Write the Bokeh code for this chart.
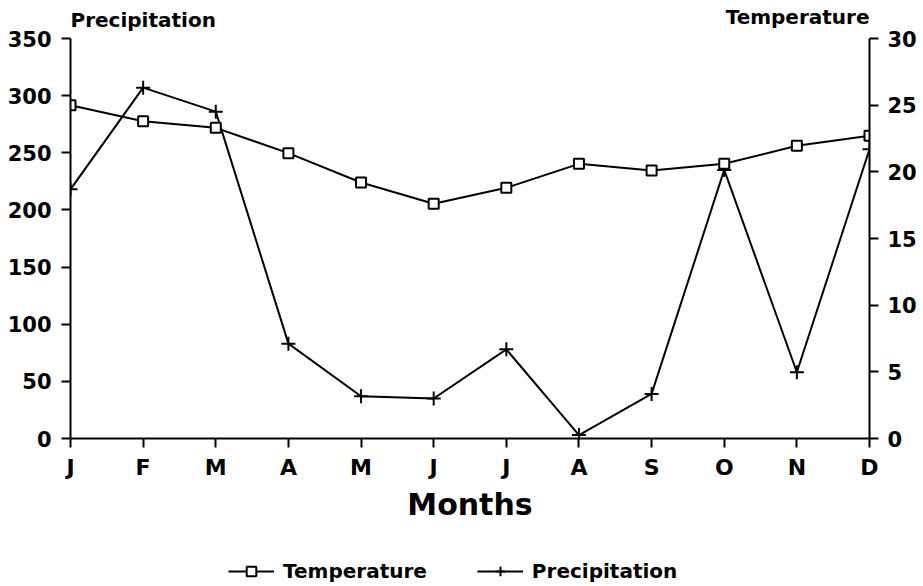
from bokeh.plotting import figure
from bokeh.layouts import column
from bokeh.models import Range1d, LinearAxis, FixedTicker, Label, Legend, LegendItem
from bokeh.embed import file_html
from bokeh.resources import INLINE

months = ["J", "F", "M", "A", "M", "J", "J", "A", "S", "O", "N", "D"]
month_idx = list(range(12))
temperature = [25.0, 23.8, 23.3, 21.4, 19.2, 17.6, 18.8, 20.6, 20.1, 20.6, 21.95, 22.7]
precipitation = [218, 307, 286, 83, 37, 35, 78, 3, 39, 235, 58, 253]
precip_ticks = [0, 50, 100, 150, 200, 250, 300, 350]
temp_ticks = [0, 5, 10, 15, 20, 25, 30]

FONT = "DejaVu Sans"

# frame geometry (pixels): axis part is 400 px tall, 38 px of headroom above it
AXIS_PX = 400
HEAD_PX = 38
scale_top = (AXIS_PX + HEAD_PX) / AXIS_PX

p = figure(width=923, height=540, output_backend="svg", toolbar_location=None,
           x_range=Range1d(0, 11), y_range=Range1d(0, precip_ticks[-1] * scale_top),
           min_border_left=70, min_border_right=54, min_border_top=0, min_border_bottom=102)
p.extra_y_ranges = {"temp": Range1d(0, temp_ticks[-1] * scale_top)}
p.outline_line_color = None
p.xgrid.visible = False
p.ygrid.visible = False
p.background_fill_color = "white"
p.border_fill_color = "white"

def style_axis(ax, standoff):
    ax.axis_line_color = "black"
    ax.axis_line_width = 2
    ax.major_tick_line_color = "black"
    ax.major_tick_line_width = 2
    ax.major_tick_out = 9
    ax.major_tick_in = 0
    ax.minor_tick_line_color = None
    ax.major_label_text_font = FONT
    ax.major_label_text_font_style = "bold"
    ax.major_label_text_font_size = "21px"
    ax.major_label_text_color = "black"
    ax.major_label_standoff = standoff

xa = p.xaxis[0]
xa.ticker = FixedTicker(ticks=month_idx)
xa.major_label_overrides = {i: m for i, m in enumerate(months)}
style_axis(xa, 7)
xa.major_label_text_font_size = "22px"
xa.axis_label = "Months"
xa.axis_label_text_font = FONT
xa.axis_label_text_font_style = "bold"
xa.axis_label_text_font_size = "30px"
xa.axis_label_text_color = "black"
xa.axis_label_standoff = 4

ya = p.yaxis[0]
ya.ticker = FixedTicker(ticks=precip_ticks)
ya.bounds = (0, precip_ticks[-1])
style_axis(ya, 10)

ra = LinearAxis(y_range_name="temp", ticker=FixedTicker(ticks=temp_ticks),
                bounds=(0, temp_ticks[-1]))
style_axis(ra, 9)
p.add_layout(ra, "right")

pl = p.line(month_idx, precipitation, line_color="black", line_width=2)
pm = p.scatter(month_idx, precipitation, marker="cross", size=14, line_color="black", line_width=2)
tl = p.line(month_idx, temperature, y_range_name="temp", line_color="black", line_width=2)
tm = p.scatter(month_idx, temperature, y_range_name="temp", marker="square", size=10,
               line_color="black", line_width=2, fill_color="white")

p.add_layout(Label(x=0, y=precip_ticks[-1], y_offset=19, text="Precipitation", text_font=FONT,
                   text_font_style="bold", text_font_size="20px", text_align="left",
                   text_baseline="alphabetic", text_color="black"))
p.add_layout(Label(x=11, y=precip_ticks[-1], y_offset=22, text="Temperature", text_font=FONT,
                   text_font_style="bold", text_font_size="20px", text_align="right",
                   text_baseline="alphabetic", text_color="black"))

# legend strip under the chart (its frame is aligned with the chart's frame);
# its view window lies outside the data, so only the legend is visible
lg = figure(width=923, height=46, output_backend="svg", toolbar_location=None,
            x_range=Range1d(-3, -2), y_range=Range1d(0, 1),
            min_border_left=70, min_border_right=54, min_border_top=0, min_border_bottom=0,
            x_axis_location=None, y_axis_location=None)
lg.outline_line_color = None
lg.xgrid.visible = False
lg.ygrid.visible = False
lt = lg.line(month_idx, temperature, line_color="black", line_width=2)
lts = lg.scatter(month_idx, temperature, marker="square", size=8, line_color="black",
                 line_width=2, fill_color="white")
lp = lg.line(month_idx, precipitation, line_color="black", line_width=2)
lps = lg.scatter(month_idx, precipitation, marker="cross", size=14, line_color="black", line_width=2)

legend = Legend(items=[LegendItem(label="Temperature", renderers=[lt, lts]),
                       LegendItem(label="Precipitation", renderers=[lp, lps])],
                orientation="horizontal", location=(158, 3),
                padding=0, margin=0, spacing=50, label_standoff=9,
                glyph_width=46, glyph_height=24, label_height=24,
                border_line_color=None, background_fill_alpha=0,
                label_text_font=FONT, label_text_font_style="bold",
                label_text_font_size="20px", label_text_color="black")
lg.add_layout(legend, "center")

layout = column(p, lg, spacing=0)
open("out.html", "w").write(file_html(layout, INLINE))
